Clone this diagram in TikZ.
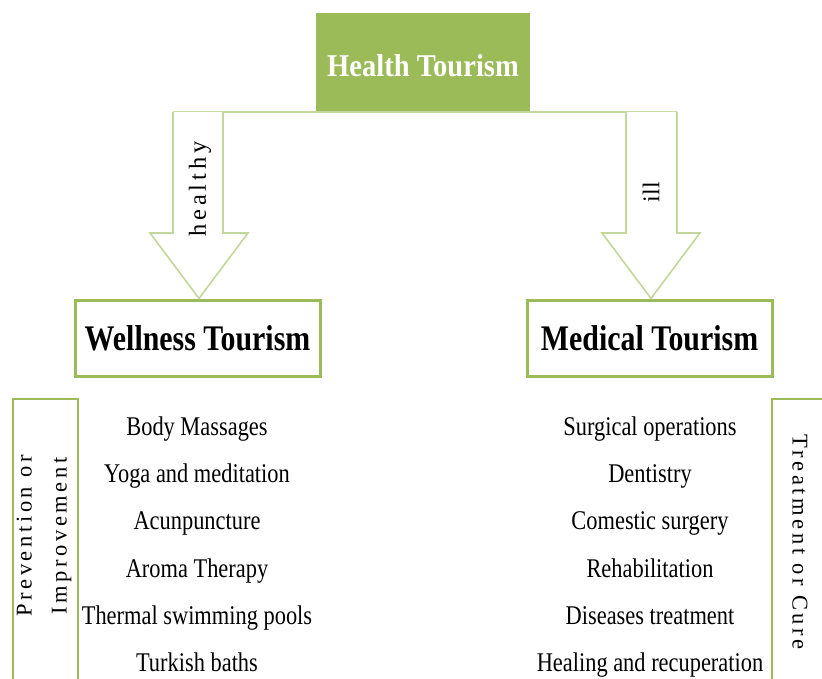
\documentclass[tikz,border=0pt]{standalone}
\usepackage{fontspec}
\setmainfont{Liberation Serif}
\newfontfamily\itemfont[FakeStretch=0.83]{Liberation Serif}
\newfontfamily\headfont[FakeStretch=0.9]{Liberation Serif}
\newfontfamily\sidefont[LetterSpace=16]{Liberation Serif}
\definecolor{leafgreen}{HTML}{9BBB59}
\definecolor{palegreen}{HTML}{C3D69B}

\begin{document}
\begin{tikzpicture}[x=1pt,y=-1pt,
  topbox/.style={fill=leafgreen, draw=none, minimum width=214pt, minimum height=98pt,
    inner sep=0pt},
  toptext/.style={inner sep=0pt, text=white, font=\headfont\bfseries\fontsize{31.7}{36}\selectfont},
  kindbox/.style={draw=leafgreen, line width=3pt, fill=white, minimum width=245pt,
    minimum height=76pt, inner sep=0pt, font=\itemfont\bfseries\fontsize{36}{40}\selectfont},
  blockarrow/.style={draw=palegreen, line width=1.6pt, line join=miter, fill=white},
  sidebox/.style={draw=leafgreen, line width=1.3pt},
  entry/.style={anchor=base, inner sep=0pt, font=\itemfont\fontsize{27}{30}\selectfont},
  sidelabel/.style={inner sep=0pt, align=center, font=\sidefont\fontsize{22.5}{35}\selectfont},
  arrowlabel/.style={inner sep=0pt, rotate=90},
]
\useasboundingbox (0,0) rectangle (822,679);
\clip (0,0) rectangle (822,679);

% main categories
\coordinate (bar west) at (173,112);
\coordinate (bar east) at (677,112);
\draw[draw=palegreen, line width=1.6pt] (bar west) -- (bar east);
\node[topbox] (health) at (423,62) {};
\node[toptext] (healthtext) at ([yshift=-4pt]health.center) {Health Tourism};
\node[kindbox] (wellness) at (197.5,338) {Wellness Tourism};
\node[kindbox] (medical) at (649.5,338) {Medical Tourism};

% block arrows from the top bar down to each category
\draw[blockarrow] (bar west) -- (173,233) -- (150,233) -- (wellness.north -| 199,0)
  -- (248,233) -- (223,233) -- (223,112);
\draw[blockarrow] (bar east) -- (677,233) -- (700,233) -- (medical.north -| 651,0)
  -- (602,233) -- (626,233) -- (626,112);
\node[arrowlabel, font=\sidefont\fontsize{24.5}{28}\selectfont] (healthy) at (200,189) {healthy};
\node[arrowlabel, font=\fontsize{24}{28}\selectfont] (ill) at (651,192) {ill};

% side brackets
\draw[sidebox] (13,700) -- (13,399) -- (78,399) -- (78,700);
\draw[sidebox] (772,700) -- (772,399) -- (840,399);
\node[sidelabel, rotate=90] (prevention) at (44,536) {Prevention or\\Improvement};
\node[sidelabel, rotate=-90] (treatment) at (800,542) {Treatment or Cure};

% wellness activities
\node[entry] (w1) at (197,435) {Body Massages};
\node[entry] (w2) at (197,482) {Yoga and meditation};
\node[entry] (w3) at (197,529) {Acunpuncture};
\node[entry] (w4) at (197,577) {Aroma Therapy};
\node[entry] (w5) at (197,624) {Thermal swimming pools};
\node[entry] (w6) at (197,671) {Turkish baths};

% medical activities
\node[entry] (m1) at (650,435) {Surgical operations};
\node[entry] (m2) at (650,482) {Dentistry};
\node[entry] (m3) at (650,529) {Comestic surgery};
\node[entry] (m4) at (650,577) {Rehabilitation};
\node[entry] (m5) at (650,624) {Diseases treatment};
\node[entry] (m6) at (650,671) {Healing and recuperation};
\end{tikzpicture}
\end{document}
